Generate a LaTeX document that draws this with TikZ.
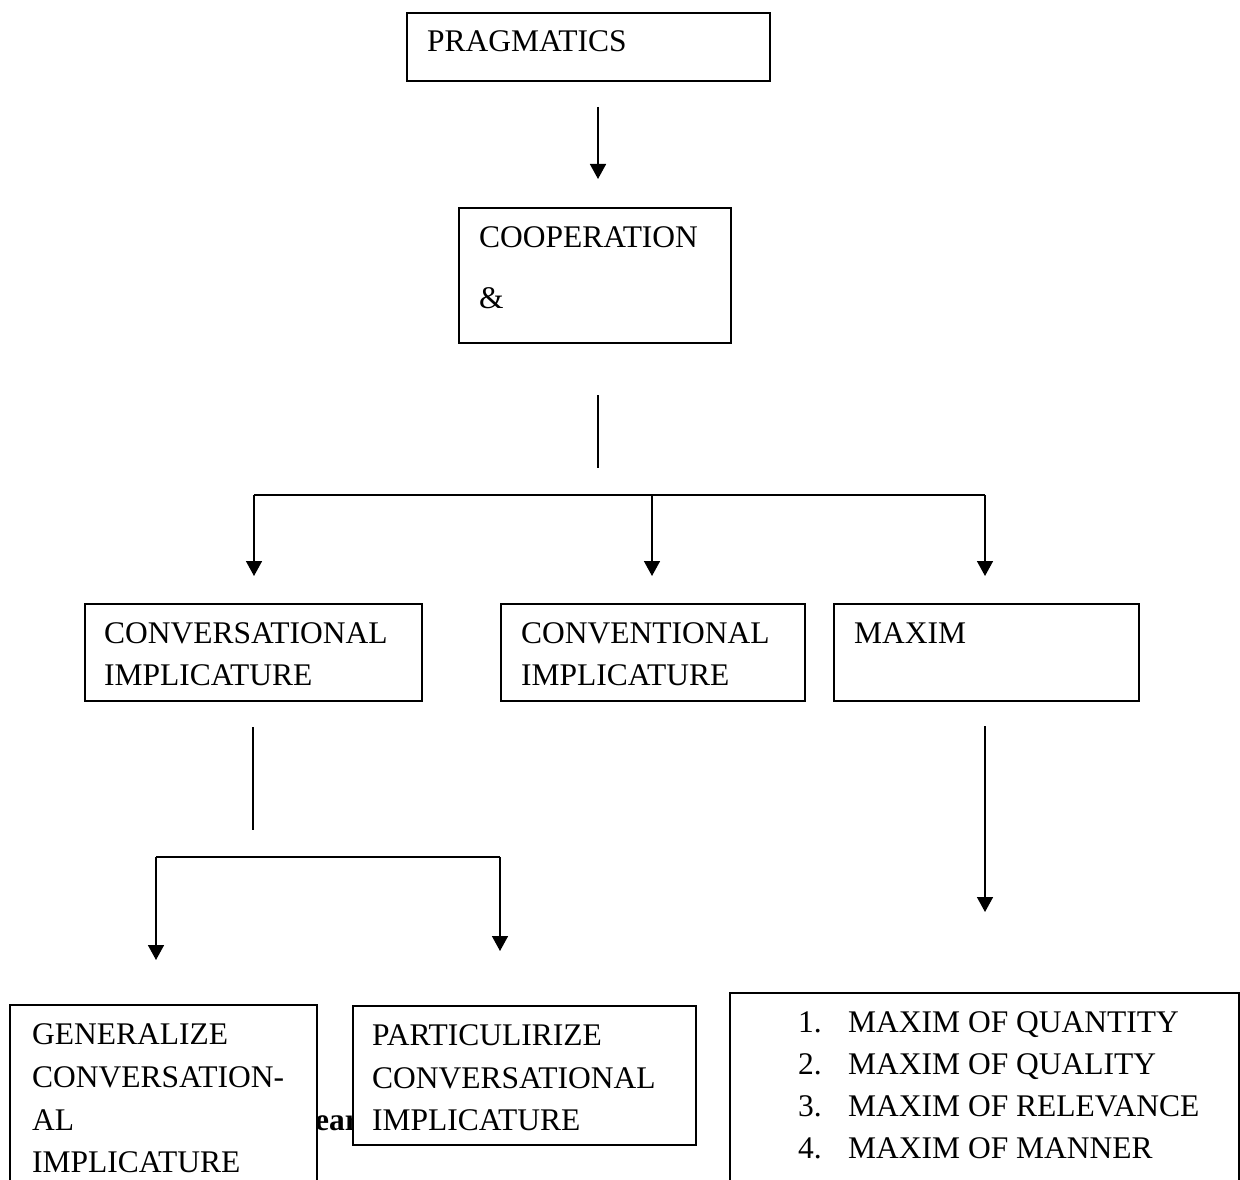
\documentclass[tikz,border=0pt]{standalone}
\usepackage{fontspec}
\setmainfont{Liberation Serif}
\usetikzlibrary{arrows.meta}
\begin{document}
\begin{tikzpicture}[x=1pt,y=-1pt,
  box/.style={draw, line width=1.6pt, fill=white, rectangle, inner sep=0pt, anchor=north west},
  txt/.style={anchor=base west, inner sep=0pt, font=\fontsize{31.5}{38}\selectfont},
  btxt/.style={anchor=base west, inner sep=0pt, font=\fontsize{31.5}{38}\selectfont\bfseries},
  conn/.style={line width=1.6pt},
  arr/.style={line width=1.6pt, -{Triangle[width=16pt,length=15pt]}}]
\fill[white] (0,0) rectangle (1240,1180);
% boxes
\node[box, minimum width=363pt, minimum height=68pt] (prag) at (406,12) {};
\node[box, minimum width=272pt, minimum height=135pt] (coop) at (458,207) {};
\node[box, minimum width=337pt, minimum height=97pt] (conv) at (84,603) {};
\node[box, minimum width=304pt, minimum height=97pt] (convt) at (500,603) {};
\node[box, minimum width=305pt, minimum height=97pt] (maxim) at (833,603) {};
\node[box, minimum width=307pt, minimum height=200pt] (gen) at (9,1004) {};
\node[btxt] (ear) at (315,1130) {ear};
\node[box, minimum width=343pt, minimum height=139pt] (part) at (352,1005) {};
\node[box, minimum width=509pt, minimum height=210pt] (list) at (729,992) {};
% texts
\node[txt] (t1) at (427,52) {PRAGMATICS};
\node[txt] (t2) at (479,247) {COOPERATION};
\node[txt] (t3) at (479,308) {\&};
\node[txt] (t4) at (104,643) {CONVERSATIONAL};
\node[txt] (t5) at (104,685) {IMPLICATURE};
\node[txt] (t6) at (521,643) {CONVENTIONAL};
\node[txt] (t7) at (521,685) {IMPLICATURE};
\node[txt] (t8) at (854,643) {MAXIM};
\node[txt] (g1) at (32,1044) {GENERALIZE};
\node[txt] (g2) at (32,1087) {CONVERSATION-};
\node[txt] (g3) at (32,1130) {AL};
\node[txt] (g4) at (32,1172) {IMPLICATURE};
\node[txt] (p1) at (372,1045) {PARTICULIRIZE};
\node[txt] (p2) at (372,1088) {CONVERSATIONAL};
\node[txt] (p3) at (372,1130) {IMPLICATURE};
\node[txt] (n1) at (798,1032) {1.};
\node[txt] (n2) at (798,1074) {2.};
\node[txt] (n3) at (798,1116) {3.};
\node[txt] (n4) at (798,1158) {4.};
\node[txt] (m1) at (848,1032) {MAXIM OF QUANTITY};
\node[txt] (m2) at (848,1074) {MAXIM OF QUALITY};
\node[txt] (m3) at (848,1116) {MAXIM OF RELEVANCE};
\node[txt] (m4) at (848,1158) {MAXIM OF MANNER};
% connector points
\coordinate (a1s) at (598,107);
\coordinate (a1e) at (598,179);
\coordinate (l1s) at (598,395);
\coordinate (l1e) at (598,468);
\coordinate (b1l) at (254,495);
\coordinate (b1m) at (652,495);
\coordinate (b1r) at (985,495);
\coordinate (e1l) at (254,576);
\coordinate (e1m) at (652,576);
\coordinate (e1r) at (985,576);
\coordinate (l2s) at (253,727);
\coordinate (l2e) at (253,830);
\coordinate (b2l) at (156,857);
\coordinate (b2r) at (500,857);
\coordinate (e2l) at (156,960);
\coordinate (e2r) at (500,951);
\coordinate (a3s) at (985,726);
\coordinate (a3e) at (985,912);
% connectors
\draw[arr] (a1s) -- (a1e);
\draw[conn] (l1s) -- (l1e);
\draw[conn] (b1l) -- (b1r);
\draw[arr] (b1l) -- (e1l);
\draw[arr] (b1m) -- (e1m);
\draw[arr] (b1r) -- (e1r);
\draw[conn] (l2s) -- (l2e);
\draw[conn] (b2l) -- (b2r);
\draw[arr] (b2l) -- (e2l);
\draw[arr] (b2r) -- (e2r);
\draw[arr] (a3s) -- (a3e);
\pgfresetboundingbox
\useasboundingbox (0,0) rectangle (1240,1180);
\end{tikzpicture}
\end{document}
